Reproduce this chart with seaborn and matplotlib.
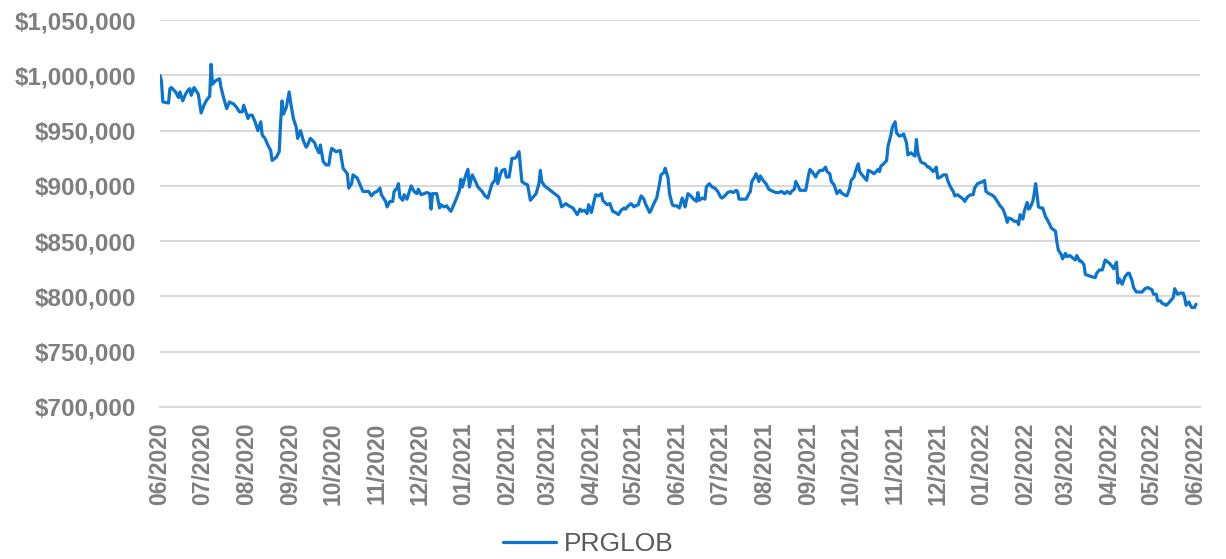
import matplotlib
matplotlib.use("Agg")
import matplotlib.pyplot as plt
import matplotlib.dates as mdates
from matplotlib.ticker import FuncFormatter, MultipleLocator
import pandas as pd
import seaborn as sns

# days since 2020-06-01 and portfolio value (thousands of $)
days_a = [0, 1, 2, 6, 7, 8, 11, 13, 14, 16, 18, 20, 21, 22, 24, 27, 29, 31, 33, 35,
          36, 37, 39, 42, 43, 45, 47, 49, 52, 54, 56, 58, 59, 62, 63, 65, 67, 69, 71, 72,
          74, 76, 78, 79, 82, 84, 85, 86, 87, 89, 91, 92, 94, 96, 97, 99, 101, 103, 104, 106,
          109, 110, 112, 113, 115, 117, 119, 120, 121, 124, 127, 129, 132, 133, 135, 136, 139, 141, 143]
value_a = [1000, 995, 976, 975, 988, 989, 985, 980, 985, 977, 983, 987, 988, 982, 989, 983, 966, 973, 978, 981,
           1010, 992, 995, 997, 989, 979, 970, 976, 974, 971, 967, 967, 973, 961, 964, 964, 958, 950, 958, 946,
           943, 937, 932, 923, 926, 931, 958, 977, 965, 971, 985, 976, 961, 953, 943, 950, 941, 935, 937, 943,
           939, 935, 930, 937, 922, 919, 919, 928, 934, 931, 932, 916, 911, 898, 902, 910, 907, 901, 895]

days_b = [144, 147, 149, 151, 153, 155, 156, 159, 160, 162, 164, 165, 167, 168, 169, 171, 172, 174, 175, 177,
          179, 181, 182, 184, 186, 188, 190, 191, 192, 195, 197, 198, 200, 202, 203, 205, 207, 209, 211, 212,
          213, 215, 217, 218, 220, 222, 224, 227, 229, 231, 234, 236, 237, 238, 240, 241, 243, 244, 246, 248,
          250, 251, 253, 254, 255, 257, 259, 261, 263, 265, 267, 268, 269, 271, 274, 276, 278, 281, 282, 283,
          285, 286, 288, 291, 292]
value_b = [895, 895, 891, 894, 895, 898, 892, 886, 881, 886, 886, 895, 898, 902, 890, 887, 892, 888, 892, 900,
           895, 893, 897, 892, 893, 894, 893, 879, 893, 893, 880, 883, 881, 882, 880, 877, 883, 889, 896, 906,
           899, 908, 915, 899, 910, 905, 899, 895, 891, 889, 902, 905, 916, 902, 911, 914, 915, 908, 908, 925,
           925, 926, 931, 917, 904, 902, 901, 887, 890, 893, 902, 914, 904, 900, 897, 895, 893, 890, 886, 881,
           883, 884, 882, 880, 878]

days_c = [294, 296, 297, 299, 301, 302, 304, 306, 307, 309, 311, 312, 315, 317, 319, 321, 323, 325, 327, 328,
          330, 332, 334, 335, 337, 339, 341, 342, 345, 346, 348, 350, 352, 353, 355, 356, 358, 359, 361, 362,
          364, 366, 368, 369, 370, 372, 374, 376, 378, 379, 380, 382, 384, 385, 387, 389, 391, 393, 395, 396,
          398, 400, 402, 404, 406, 407, 408, 411, 413, 415, 416, 417, 419, 420, 422, 423, 425, 427, 429, 432,
          434, 436, 438, 440]
value_c = [874, 879, 877, 878, 875, 883, 876, 887, 892, 891, 893, 887, 883, 884, 877, 876, 874, 878, 880, 879,
           882, 884, 881, 882, 883, 891, 888, 884, 876, 878, 884, 889, 902, 910, 912, 916, 907, 893, 883, 882,
           882, 880, 889, 886, 881, 893, 891, 888, 886, 894, 887, 889, 888, 899, 902, 899, 898, 895, 890, 889,
           891, 894, 895, 894, 896, 895, 888, 888, 888, 893, 895, 904, 908, 911, 904, 909, 905, 902, 897, 895,
           894, 894, 895, 893]

days_d = [442, 444, 445, 447, 448, 450, 451, 453, 455, 457, 458, 460, 462, 463, 465, 467, 469, 470, 472, 473,
          475, 477, 479, 480, 482, 484, 486, 487, 489, 490, 492, 493, 494, 496, 498, 499, 501, 503, 504, 506,
          507, 508, 510, 512, 513, 515, 516, 518, 519, 521, 523, 524, 526, 527, 529, 531, 532, 533, 534, 536,
          537, 539, 541, 542, 544, 545, 547, 548, 550, 552, 554, 555, 557, 559, 560, 562, 564, 566, 567, 569,
          571, 573, 574, 576, 578, 580, 581, 582, 584, 586, 588]
value_d = [895, 893, 895, 897, 904, 899, 896, 896, 896, 910, 915, 912, 908, 911, 914, 914, 917, 913, 911, 904,
           901, 893, 896, 894, 892, 891, 898, 905, 908, 913, 920, 913, 911, 908, 905, 914, 913, 911, 912, 915,
           913, 918, 920, 923, 936, 946, 953, 958, 948, 945, 946, 947, 939, 928, 930, 928, 927, 942, 930, 922,
           921, 920, 917, 917, 914, 913, 917, 907, 908, 910, 910, 905, 899, 895, 891, 892, 890, 888, 886, 890,
           892, 892, 898, 902, 903, 904, 905, 895, 893, 892, 890]

days_e = [590, 592, 594, 596, 597, 598, 600, 602, 604, 605, 606, 607, 608, 609, 611, 612, 613, 615, 616, 617,
          618, 619, 621, 622, 624, 625, 627, 628, 631, 632, 633, 635, 636, 638, 639, 641, 643, 645, 646, 648,
          649, 651, 652, 654, 656, 659, 660, 662, 664, 666, 667, 669, 671, 672, 674, 675, 676, 678, 680, 682,
          683, 685, 686, 688, 690, 692, 694, 696, 699, 700, 702, 703, 705, 706, 709, 710, 712, 714, 715, 717,
          719, 721, 722, 723, 725, 726, 727, 729, 730]
value_e = [886, 882, 879, 872, 867, 871, 870, 868, 868, 865, 874, 872, 870, 877, 885, 879, 880, 886, 893, 902,
           892, 881, 880, 880, 872, 870, 865, 862, 859, 849, 842, 838, 834, 839, 836, 837, 835, 833, 837, 832,
           832, 829, 820, 819, 818, 817, 821, 824, 824, 833, 832, 830, 827, 825, 831, 812, 816, 811, 818, 821,
           821, 814, 808, 804, 804, 804, 807, 808, 806, 802, 802, 796, 796, 794, 792, 793, 796, 799, 807, 802,
           803, 803, 799, 792, 795, 792, 790, 790, 793]

start = pd.Timestamp("2020-06-01")
days = days_a + days_b + days_c + days_d + days_e
values = value_a + value_b + value_c + value_d + value_e
df = pd.DataFrame({
    "date": start + pd.to_timedelta(days, unit="D"),
    "value": [v * 1000 for v in values],
})

sns.set_style("white")
plt.rcParams["font.family"] = ["Liberation Sans", "DejaVu Sans"]

grey = "#7f7f7f"
gridc = "#d9d9d9"

fig = plt.figure(figsize=(12.26, 5.59), dpi=100)
ax = fig.add_axes([0.1305, 0.272, 0.8485, 0.692])

sns.lineplot(data=df, x="date", y="value", ax=ax, color="#0A74CF",
             linewidth=2.3, label="PRGLOB")

ax.set_ylim(700000, 1050000)
ax.yaxis.set_major_locator(MultipleLocator(50000))
ax.yaxis.set_major_formatter(FuncFormatter(lambda v, p: f"${v:,.0f}"))
ax.set_xlim(start, pd.Timestamp("2022-06-04"))
ax.set_xticks(pd.date_range("2020-06-01", "2022-06-01", freq="MS"))
ax.xaxis.set_major_formatter(mdates.DateFormatter("%m/%Y"))

ax.yaxis.grid(True, color=gridc, linewidth=1.5)
ax.xaxis.grid(False)
for s in ["left", "right", "top"]:
    ax.spines[s].set_visible(False)
ax.spines["bottom"].set_color(gridc)
ax.spines["bottom"].set_linewidth(1.5)

ax.tick_params(axis="y", length=0, pad=17, labelsize=17.5, labelcolor=grey)
ax.tick_params(axis="x", length=5, width=1.5, color=gridc, direction="out",
               pad=6, labelsize=16.5, labelcolor=grey, rotation=90)
for lab in ax.get_xticklabels() + ax.get_yticklabels():
    lab.set_fontweight("bold")
ax.set_xlabel("")
ax.set_ylabel("")

ax.get_legend().remove()
handles, labels = ax.get_legend_handles_labels()
fig.legend(handles, labels, loc="center", bbox_to_anchor=(0.48, 0.027),
           frameon=False, fontsize=19, handlelength=2.0, handletextpad=0.3,
           labelcolor="#595959")

fig.savefig("out.png", dpi=100)
